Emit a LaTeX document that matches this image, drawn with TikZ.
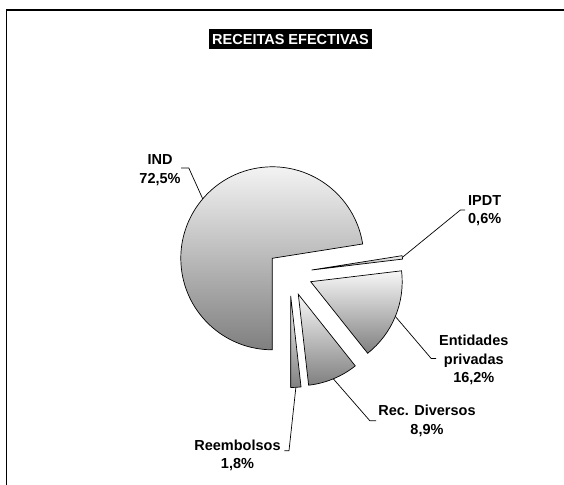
\documentclass[tikz,border=0pt]{standalone}
\usepackage{fontspec}
\setmainfont{Liberation Sans}
\usetikzlibrary{calc}
\newcommand\PieR{91.5pt}
\tikzset{
  slice/.style={draw=black, line width=0.7pt, top color=white!97!black, bottom color=black!50, line join=miter},
  lbl/.style={font=\bfseries\fontsize{14.5}{18.5}\selectfont, align=center, inner sep=0pt},
  leader/.style={draw=black, line width=0.7pt},
  frameline/.style={draw=black, line width=1.3pt},
  titlebox/.style={fill=black, text=white, font=\bfseries\fontsize{14.5}{17}\selectfont, inner sep=0pt, minimum width=162.4pt, minimum height=20pt}
}
\begin{document}
\begin{tikzpicture}[x=1pt,y=1pt]
\useasboundingbox (0,0) rectangle (564,484);
\fill[white] (0,0) rectangle (564,484);
\draw[frameline] (6.7,-2) -- (6.7,474) -- (566,474);

\node[titlebox] (title) at (290.5,444.7) {RECEITAS EFECTIVAS};

% slice apexes
\coordinate (cIND) at (272.3,225.7);
\coordinate (cIPDT) at (311.7,214);
\coordinate (cENT) at (310.7,202.3);
\coordinate (cREC) at (298.3,189.7);
\coordinate (cREE) at (290.7,188);

\path[slice] (cIND) -- ($(cIND)+(9:\PieR)$) arc[start angle=9, end angle=270, radius=\PieR] -- cycle;
\path[slice] (cREE) -- ($(cREE)+(270:\PieR)$) arc[start angle=270, end angle=276.48, radius=\PieR] -- cycle;
\path[slice] (cREC) -- ($(cREC)+(276.48:\PieR)$) arc[start angle=276.48, end angle=308.52, radius=\PieR] -- cycle;
\path[slice] (cENT) -- ($(cENT)+(308.52:\PieR)$) arc[start angle=308.52, end angle=366.84, radius=\PieR] -- cycle;
\path[slice] (cIPDT) -- ($(cIPDT)+(6.84:\PieR)$) arc[start angle=6.84, end angle=9, radius=\PieR] -- cycle;

% leader anchor points on the slices
\coordinate (pIND) at ($(cIND)+(139.5:\PieR)$);
\coordinate (pIPDT) at ($(cIPDT)+(7.92:\PieR)$);
\coordinate (pENT) at ($(cENT)+(337.68:\PieR)$);
\coordinate (pREC) at ($(cREC)+(292.5:\PieR)$);
\coordinate (pREE) at ($(cREE)+(273.24:\PieR)$);

% labels
\node[lbl] (lIND) at (160,313.8) {IND\\72,5\%};
\node[lbl] (lIPDT) at (484.7,273.3) {IPDT\\0,6\%};
\node[lbl] (lENT) at (473.8,123.8) {Entidades\\privadas\\16,2\%};
\node[lbl] (lREC) at (427,63.2) {Rec. Diversos\\8,9\%};
\node[lbl] (lREE) at (237.5,28.8) {Reembolsos\\1,8\%};

% leader bends and ends
\coordinate (kIND) at (188.8,316);  \coordinate (eIND) at (181,316);
\coordinate (kIPDT) at (460.4,274); \coordinate (eIPDT) at (465,274);
\coordinate (kENT) at (431.2,125.5); \coordinate (eENT) at (436,125.5);
\coordinate (kREC) at (369.8,63.3); \coordinate (eREC) at (376,63.3);
\coordinate (kREE) at (289,33.3);   \coordinate (eREE) at (284.3,33.3);

\draw[leader] (pIND) -- (kIND) -- (eIND);
\draw[leader] (pIPDT) -- (kIPDT) -- (eIPDT);
\draw[leader] (pENT) -- (kENT) -- (eENT);
\draw[leader] (pREC) -- (kREC) -- (eREC);
\draw[leader] (pREE) -- (kREE) -- (eREE);
\end{tikzpicture}
\end{document}
